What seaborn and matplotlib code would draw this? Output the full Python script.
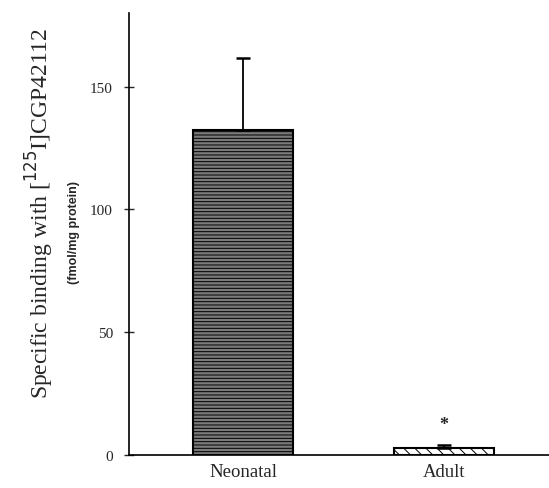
import matplotlib
matplotlib.use("Agg")
import matplotlib.pyplot as plt
import seaborn as sns
import pandas as pd
import numpy as np

groups = ["Neonatal", "Adult"]
binding = [132.5, 3.0]
sem = [29.0, 1.0]
significance = ["", "*"]
yticks = [0, 50, 100, 150]

sns.set_theme(style="white")
plt.rcParams['font.family'] = ['Liberation Serif', 'DejaVu Serif']
plt.rcParams['hatch.linewidth'] = 0.7
plt.rcParams['hatch.color'] = '#3a3a3a'

df = pd.DataFrame({"group": groups, "binding": binding})

fig = plt.figure(figsize=(5.49, 4.89), dpi=100)
ax = fig.add_axes([129/549, 1 - 456/489, 420/549, 442/489])

sns.barplot(data=df, x="group", y="binding", ax=ax, width=0.5,
            palette=["#7a7a7a", "white"], hue="group", legend=False,
            edgecolor="black", linewidth=1.5)

hatches = ["-----", "\\\\\\"]
for patch, h in zip(ax.patches, hatches):
    patch.set_hatch(h)

xs = np.arange(len(groups))
ax.errorbar(xs, binding, yerr=[np.zeros(len(sem)), sem], fmt="none",
            ecolor="black", elinewidth=1.3, capsize=5, capthick=1.8)

for x, b, s, lab in zip(xs, binding, sem, significance):
    if lab:
        ax.text(x, b + s + 8.5, lab, ha="center", va="center", fontsize=13,
                fontweight="bold")

ax.set_ylim(0, 180)
ax.set_xlim(-0.567, 1.522)
ax.set_yticks(yticks)
ax.set_yticklabels([str(t) for t in yticks], fontsize=11)
ax.tick_params(axis="y", direction="inout", length=7, width=1, left=True, pad=8)
ax.tick_params(axis="x", length=0, labelsize=13.5, pad=6)
ax.set_xlabel("")
ax.set_ylabel("")

for s in ["top", "right"]:
    ax.spines[s].set_visible(False)
for s in ["left", "bottom"]:
    ax.spines[s].set_visible(True)
    ax.spines[s].set_color("black")
    ax.spines[s].set_linewidth(1.2)

fig.text(40/549, 1 - 213/489, "Specific binding with [$^{125}$I]CGP42112",
         rotation=90, ha="center", va="center", fontsize=17)
fig.text(74/549, 1 - 232/489, "(fmol/mg protein)", rotation=90,
         ha="center", va="center", fontsize=9, fontweight="bold",
         family=["Liberation Sans", "DejaVu Sans"])

fig.savefig("out.png", dpi=100)
